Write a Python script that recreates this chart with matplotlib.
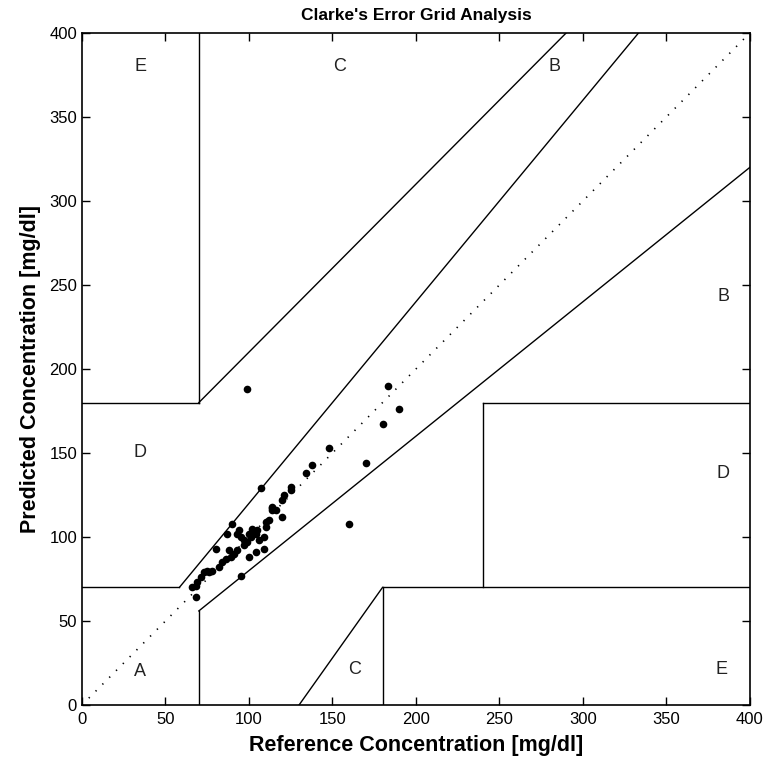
import matplotlib
matplotlib.use('Agg')
import matplotlib.pyplot as plt

# reference vs predicted glucose readings (mg/dl)
ref = [99, 183, 190, 180, 170, 160, 148, 138, 134, 125, 125, 121, 120, 107,
       114, 116, 114, 120, 112, 110, 114, 90, 94, 93, 87, 102, 104, 101, 110,
       109, 99, 97, 93, 91, 89, 104, 100, 109, 80, 86, 84, 82, 75, 73, 71, 69,
       68, 95, 68, 97, 95, 105, 106, 100, 88, 78, 76, 66]
pred = [188, 190, 176, 167, 144, 108, 153, 143, 138, 130, 128, 125, 122, 129,
        118, 116, 116, 112, 110, 109, 117, 107.5, 104, 102, 102, 105, 102, 100, 106,
        100, 97, 95, 92, 90, 88, 91, 88, 93, 93, 87, 85, 82, 80, 79, 76, 73,
        71, 77, 64.5, 98, 100, 104, 98, 102, 92, 80, 79, 70]

# zone boundaries (x pairs, y pairs)
zone_lines = [
    ([0, 175 / 3], [70, 70]),
    ([175 / 3, 400 / 1.2], [70, 400]),
    ([70, 70], [180, 400]),
    ([0, 70], [180, 180]),
    ([70, 290], [180, 400]),
    ([70, 70], [0, 56]),
    ([70, 400], [56, 320]),
    ([180, 180], [0, 70]),
    ([180, 400], [70, 70]),
    ([240, 240], [70, 180]),
    ([240, 400], [180, 180]),
    ([130, 180], [0, 70]),
]

zone_labels = ['A', 'D', 'E', 'C', 'B', 'C', 'E', 'D', 'B']
label_x = [35, 35, 35, 154, 283, 163, 383, 384, 384]
label_y = [20, 150, 380, 380, 380, 21, 21, 138, 243]

fig = plt.figure(figsize=(7.66, 7.65), dpi=100)
ax = fig.add_axes([0.107, 0.0784, 0.872, 0.8786])

ax.plot([0, 400], [0, 400], color='k', lw=1.2, linestyle=(0, (0.8, 5.0)))
for xs, ys in zone_lines:
    ax.plot(xs, ys, color='k', lw=1.0)

ax.plot(ref, pred, 'o', color='k', markersize=5.5, markeredgewidth=0)

for lab, x, y in zip(zone_labels, label_x, label_y):
    ax.text(x, y, lab, ha='center', va='center', fontsize=13,
            family='Liberation Sans', color='#222222')

ax.set_xlim(0, 400)
ax.set_ylim(0, 400)
ax.set_xticks(range(0, 401, 50))
ax.set_yticks(range(0, 401, 50))
ax.tick_params(direction='in', top=True, right=True, length=6, width=1,
               labelsize=12)
ax.tick_params(axis='x', pad=5)
for lab in ax.get_xticklabels() + ax.get_yticklabels():
    lab.set_family('Liberation Sans')
for sp in ax.spines.values():
    sp.set_linewidth(1.2)

ax.set_xlabel('Reference Concentration [mg/dl]', fontsize=15.5, fontweight='bold',
              family='Liberation Sans', labelpad=6)
ax.set_ylabel('Predicted Concentration [mg/dl]', fontsize=15.5, fontweight='bold',
              family='Liberation Sans', labelpad=6)
ax.set_title("Clarke's Error Grid Analysis", fontsize=12.5, fontweight='bold',
             family='Liberation Sans', pad=9)

fig.savefig('out.png', dpi=100)
